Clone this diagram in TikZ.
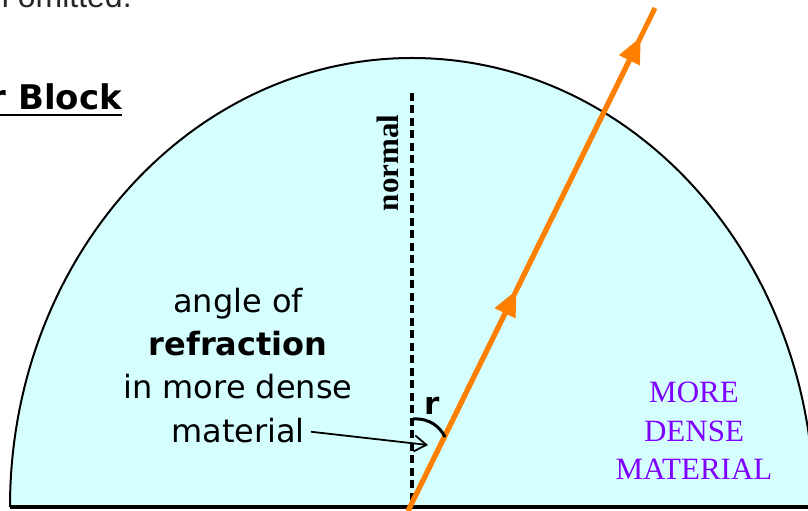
\documentclass[tikz,border=0pt]{standalone}
\usepackage{fontspec}
\setmainfont{DejaVu Sans}
\newfontfamily\timesfont{Liberation Serif}
\newfontfamily\arialfont{Liberation Sans}
\usetikzlibrary{arrows.meta}
\definecolor{glass}{RGB}{213,255,255}
\definecolor{rayorange}{RGB}{255,128,0}
\definecolor{densepurple}{RGB}{128,0,255}

\begin{document}
\begin{tikzpicture}[x=1pt, y=1pt, every node/.style={inner sep=0pt},
    comic/.style={font=\fontsize{32}{43}\selectfont, align=center},
    ray/.style={draw=rayorange, line width=5pt},
    raytip/.style={-{Triangle[length=26pt,width=22pt]}}]
  \useasboundingbox (0,0) rectangle (808,511);
  \fill[glass] (10,4) arc[start angle=180, end angle=0, x radius=402, y radius=449] -- cycle;
  \draw[line width=2pt] (10,4) arc[start angle=180, end angle=0, x radius=402, y radius=449];
  \draw[line width=4pt] (10,4) -- (814,4);
  \node (note) [anchor=base west, text=black!85,
    font=\arialfont\fontsize{32}{38}\selectfont] at (-9,503) {n omitted.};
  \node (head) [anchor=base west, font=\bfseries\fontsize{34}{40}\selectfont]
    at (-10.6,401) {r Block};
  \draw[line width=2.5pt] ([yshift=-5pt]head.base west) -- ([yshift=-5pt]head.base east);
  \coordinate (ntop) at (412,418);
  \coordinate (nbot) at (412,4);
  \draw[line width=3.5pt, dash pattern=on 8pt off 4.5pt] (ntop) -- (nbot);
  \node (nlbl) [rotate=90, anchor=base, font=\timesfont\bfseries\fontsize{31}{36}\selectfont]
    at (398,348) {normal};
  \coordinate (rs) at (408,0);
  \coordinate (m1) at (516.5,221);
  \coordinate (m2) at (640.8,474);
  \coordinate (re) at (655,503);
  \draw[ray] (rs) -- (re);
  \draw[ray, raytip] (rs) -- (m1);
  \draw[ray, raytip] (m1) -- (m2);
  \coordinate (a1) at (413,92);
  \coordinate (a2) at (445,74);
  \draw[line width=3pt] (a1) .. controls (430,93) and (440,84) .. (a2);
  \node (r) [anchor=base, font=\bfseries\fontsize{31}{36}\selectfont] at (432,96) {r};
  \node (lbl) [comic, anchor=north] at (238,223) {angle of\\\textbf{refraction}\\in more dense};
  \node (mat) [comic, anchor=base] at (238,68) {material};
  \coordinate (rarr) at (428,66);
  \draw[line width=1.8pt, shorten <=6pt, -{Straight Barb[length=12pt,width=16pt]}] (mat.east) -- (rarr);
  \node (dense) [anchor=north, align=center, text=densepurple,
    font=\timesfont\fontsize{31}{38.5}\selectfont] at (694,129) {MORE\\DENSE\\MATERIAL};
\end{tikzpicture}
\end{document}
